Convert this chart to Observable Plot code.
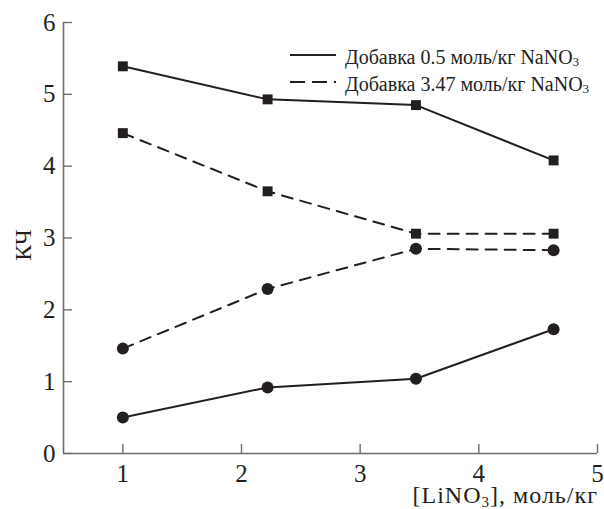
<!DOCTYPE html>
<html><head><meta charset="utf-8">
<script src="https://cdn.jsdelivr.net/npm/d3@7"></script>
<script src="https://cdn.jsdelivr.net/npm/@observablehq/plot@0.6"></script>
<style>
body{margin:0;background:#fff}
#chart svg{font-family:"Liberation Serif","Times New Roman",serif;display:block}
</style>
</head><body><div id="chart"></div>
<script>
// x: [LiNO3], mol/kg
const xValues = [1, 2.22, 3.47, 4.63];
// solid (0.5 mol/kg NaNO3)
const solidSquares = [5.39, 4.93, 4.85, 4.08];
const solidCircles = [0.50, 0.92, 1.04, 1.73];
// dashed (3.47 mol/kg NaNO3)
const dashedSquares = [4.46, 3.65, 3.06, 3.06];
const dashedCircles = [1.46, 2.29, 2.85, 2.83];
const xTicks = [1, 2, 3, 4, 5];
const yTicks = [0, 1, 2, 3, 4, 5, 6];
const legendNames = ["Добавка 0.5 моль/кг NaNO", "Добавка 3.47 моль/кг NaNO"];
const yLabel = "КЧ";

const ink = "#231f20";
const axisGray = "#6d6d6d";

const seriesDefs = [
  {key: "ss", values: solidSquares, dashed: false, symbol: "square"},
  {key: "sc", values: solidCircles, dashed: false, symbol: "circle"},
  {key: "ds", values: dashedSquares, dashed: true, symbol: "square"},
  {key: "dc", values: dashedCircles, dashed: true, symbol: "circle"}
];
const data = seriesDefs.flatMap(s => xValues.map((x, i) => ({x, y: s.values[i], key: s.key, dashed: s.dashed, symbol: s.symbol})));

const chart = Plot.plot({
  width: 604, height: 509,
  marginLeft: 63, marginRight: 7, marginTop: 22, marginBottom: 56,
  x: {domain: [0.5, 5]},
  y: {domain: [0, 6]},
  marks: [
    Plot.ruleX([0.5], {stroke: axisGray, strokeWidth: 1.6}),
    Plot.ruleY([0], {stroke: axisGray, strokeWidth: 1.6}),
    Plot.axisX({ticks: xTicks, tickFormat: d3.format("d"), tickSize: -9, tickPadding: 20, stroke: axisGray, strokeWidth: 1.4, color: ink, label: null}),
    Plot.axisY({ticks: yTicks, tickFormat: d3.format("d"), tickSize: -9, tickPadding: 17, stroke: axisGray, strokeWidth: 1.4, color: ink, label: null}),
    Plot.line(data.filter(d => !d.dashed), {x: "x", y: "y", z: "key", stroke: ink, strokeWidth: 2}),
    Plot.line(data.filter(d => d.dashed), {x: "x", y: "y", z: "key", stroke: ink, strokeWidth: 2, strokeDasharray: "11,8"}),
    Plot.dot(data.filter(d => d.symbol === "square"), {x: "x", y: "y", symbol: "square", r: 5.6, fill: ink, stroke: "none"}),
    Plot.dot(data.filter(d => d.symbol === "circle"), {x: "x", y: "y", symbol: "circle", r: 6, fill: ink, stroke: "none"})
  ]
});
document.getElementById("chart").append(chart);

const svg = d3.select(chart);
// tick label size (style overrides Plot's defaults)
svg.selectAll("g[aria-label='x-axis tick label'] text, g[aria-label='y-axis tick label'] text")
  .style("font-size", "25px").style("fill", ink);

// y-axis label
svg.append("text").attr("transform", "translate(31,245) rotate(-90)")
  .attr("text-anchor", "middle").style("font-size", "24px").attr("fill", ink).text(yLabel);

// x-axis label with subscript
const xl = svg.append("text").attr("x", 598).attr("y", 503).attr("text-anchor", "end")
  .style("font-size", "24px").style("letter-spacing", "1px").attr("fill", ink);
xl.append("tspan").text("[LiNO");
xl.append("tspan").style("font-size", "15px").attr("dy", 4).text("3");
xl.append("tspan").attr("dy", -4).text("], моль/кг");

// legend
const lg = svg.append("g").style("font-size", "20px").attr("fill", ink).attr("text-anchor", "start");
legendNames.forEach((name, i) => {
  const y = 55 + i * 27;
  lg.append("line").attr("x1", 290).attr("x2", 336).attr("y1", y).attr("y2", y)
    .attr("stroke", ink).attr("stroke-width", 2)
    .attr("stroke-dasharray", i === 1 ? "15,7" : null);
  const t = lg.append("text").attr("x", 345).attr("y", y + 9).attr("text-anchor", "start");
  t.append("tspan").text(name);
  t.append("tspan").style("font-size", "13px").attr("dy", 2).text("3");
});
</script>
</body></html>
